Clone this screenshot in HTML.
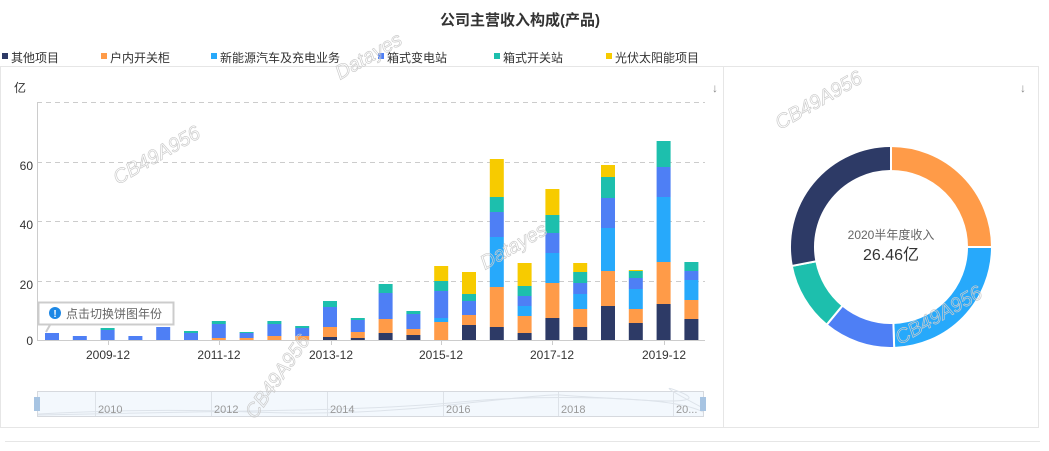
<!DOCTYPE html>
<html><head><meta charset="utf-8"><style>
body{margin:0;background:#fff;width:1049px;height:446px;overflow:hidden;font-family:"Liberation Sans","Noto Sans CJK SC",sans-serif;}
svg text{font-family:"Liberation Sans","Noto Sans CJK SC",sans-serif;}
</style></head><body>
<svg id="s" width="1049" height="446" xmlns="http://www.w3.org/2000/svg">
<text x="520" y="25" text-anchor="middle" font-size="15" font-weight="bold" fill="#333">公司主营收入构成(产品)</text>
<g font-size="12" fill="#333">
<rect x="2" y="53" width="6" height="6" fill="#2d3a66"/><text x="11" y="62">其他项目</text>
<rect x="101" y="53" width="6" height="6" fill="#ff9b48"/><text x="110" y="62">户内开关柜</text>
<rect x="211" y="53" width="6" height="6" fill="#27a9fb"/><text x="220" y="62">新能源汽车及充电业务</text>
<rect x="378" y="53" width="6" height="6" fill="#4e7ff5"/><text x="387" y="62">箱式变电站</text>
<rect x="494" y="53" width="6" height="6" fill="#1dbfad"/><text x="503" y="62">箱式开关站</text>
<rect x="606" y="53" width="6" height="6" fill="#f7cb00"/><text x="615" y="62">光伏太阳能项目</text>
</g>
<rect x="0.5" y="66.5" width="1038" height="361" fill="none" stroke="#e6e6e6"/>
<line x1="723.5" y1="67" x2="723.5" y2="427" stroke="#e6e6e6"/>
<line x1="5" y1="441.5" x2="1040" y2="441.5" stroke="#e6e6e6"/>
<text x="14" y="92" font-size="12" fill="#333">亿</text>
<g stroke="#ccc" stroke-dasharray="5,4">
<line x1="37" y1="102.5" x2="705" y2="102.5"/><line x1="37" y1="162.5" x2="705" y2="162.5"/>
<line x1="37" y1="221.5" x2="705" y2="221.5"/><line x1="37" y1="281.5" x2="705" y2="281.5"/>
</g>
<line x1="37.5" y1="102" x2="37.5" y2="340" stroke="#ccc"/>
<line x1="37" y1="340.5" x2="705" y2="340.5" stroke="#ccc"/>
<g stroke="#ccc"><line x1="108.5" y1="340" x2="108.5" y2="345"/><line x1="219.5" y1="340" x2="219.5" y2="345"/><line x1="331.5" y1="340" x2="331.5" y2="345"/><line x1="441.5" y1="340" x2="441.5" y2="345"/><line x1="552.5" y1="340" x2="552.5" y2="345"/><line x1="664.5" y1="340" x2="664.5" y2="345"/></g>
<g font-size="12" fill="#333" text-anchor="end">
<text x="33" y="170">60</text><text x="33" y="229">40</text><text x="33" y="289">20</text><text x="33" y="345">0</text>
</g>
<g font-size="12" fill="#333" text-anchor="middle">
<text x="108" y="359">2009-12</text><text x="219" y="359">2011-12</text><text x="331" y="359">2013-12</text>
<text x="441" y="359">2015-12</text><text x="552" y="359">2017-12</text><text x="664" y="359">2019-12</text>
</g>
<g id="bars"></g>
<rect x="38.5" y="302.5" width="135" height="22" fill="#fff" stroke="#ccc" stroke-width="2"/>
<line x1="50" y1="325" x2="46" y2="332" stroke="#ccc" stroke-width="2"/>
<circle cx="55" cy="313" r="6" fill="#1e88e5"/><text x="55" y="317" font-size="10" fill="#fff" text-anchor="middle" font-weight="bold">!</text>
<text x="66" y="318" font-size="12" fill="#666">点击切换饼图年份</text>
<g id="donut"></g>
<text x="891" y="239" font-size="12" fill="#666" text-anchor="middle">2020半年度收入</text>
<text x="891" y="260" font-size="16" fill="#333" text-anchor="middle">26.46亿</text>
<text x="715" y="92" font-size="12" fill="#888" text-anchor="middle">↓</text>
<text x="1023" y="92" font-size="12" fill="#888" text-anchor="middle">↓</text>
<rect x="37.5" y="391.5" width="666" height="25" fill="#f3f8fd" stroke="#d6d9de"/>
<path d="M38 414 Q150 408 250 412 T450 405 T560 395 T640 400 T680 392 T703 408" fill="none" stroke="#dde3ea"/>
<path d="M38 415 Q200 412 300 410 T460 402 T600 398 T703 412" fill="none" stroke="#dde3ea"/>
<g stroke="#dde2e8"><line x1="95.5" y1="392" x2="95.5" y2="416"/><line x1="211.5" y1="392" x2="211.5" y2="416"/><line x1="327.5" y1="392" x2="327.5" y2="416"/><line x1="443.5" y1="392" x2="443.5" y2="416"/><line x1="558.5" y1="392" x2="558.5" y2="416"/><line x1="673.5" y1="392" x2="673.5" y2="416"/></g>
<g font-size="11" fill="#999"><text x="98" y="413">2010</text><text x="214" y="413">2012</text><text x="330" y="413">2014</text><text x="446" y="413">2016</text><text x="561" y="413">2018</text><text x="676" y="413">20...</text></g>
<rect x="34" y="397" width="6" height="14" fill="#a7c4e2"/><rect x="700" y="397" width="6" height="14" fill="#a7c4e2"/>
<g font-size="20" fill="none" stroke="#ccc" stroke-width="0.7" font-family="Liberation Serif" font-style="italic">
<text transform="translate(118,185) rotate(-30)">CB49A956</text>
<text transform="translate(780,130) rotate(-30)">CB49A956</text>
<text transform="translate(255,420) rotate(-55)">CB49A956</text>
<text transform="translate(900,345) rotate(-30)">CB49A956</text>
<text transform="translate(340,80) rotate(-30)">Datayes</text>
<text transform="translate(485,270) rotate(-30)">Datayes</text>
</g>
</svg>
<script>
var C=["#2d3a66","#ff9b48","#27a9fb","#4e7ff5","#1dbfad","#f7cb00"];
var B=[
[0,0,0,333,0,0],[0,0,0,336,0,0],[0,0,0,330,328,0],[0,0,0,336,0,0],[0,0,0,327,0,0],
[0,0,0,333,331,0],[0,338,0,324,321,0],[0,338,0,333,332,0],[0,336,0,324,321,0],[0,336,0,328,326,0],
[337,327,0,307,301,0],[338,332,0,320,318,0],[333,319,0,293,284,0],[335,329,0,314,311,0],
[0,322,318,291,281,266],[325,315,0,301,294,272],[327,287,237,212,197,159],[333,316,306,296,286,263],
[318,283,253,233,215,189],[327,309,294,283,272,263],[306,271,228,198,177,165],[323,309,289,278,271,270],
[304,262,197,167,141,0],[319,300,280,271,262,0]];
var h="";
B.forEach(function(b,i){var cx=52+i*27.8,prev=340;b.forEach(function(t,k){if(t){h+='<rect x="'+(cx-7)+'" y="'+t+'" width="14" height="'+(prev-t)+'" fill="'+C[k]+'"/>';prev=t;}});});
document.getElementById("bars").innerHTML=h;
var P=[[1,0.25],[2,0.245],[3,0.115],[4,0.11],[0,0.28]],a=0,cx=891,cy=247,R=101,r=76,d="";
P.forEach(function(p){var a0=a,a1=a+p[1]*2*Math.PI;a=a1;
function pt(rad,an){return (cx+rad*Math.sin(an)).toFixed(2)+","+(cy-rad*Math.cos(an)).toFixed(2);}
var l=(a1-a0)>Math.PI?1:0;
d+='<path d="M'+pt(R,a0)+' A'+R+','+R+' 0 '+l+' 1 '+pt(R,a1)+' L'+pt(r,a1)+' A'+r+','+r+' 0 '+l+' 0 '+pt(r,a0)+'Z" fill="'+C[p[0]]+'" stroke="#fff" stroke-width="2"/>';});
document.getElementById("donut").innerHTML=d;
</script>
</body></html>
